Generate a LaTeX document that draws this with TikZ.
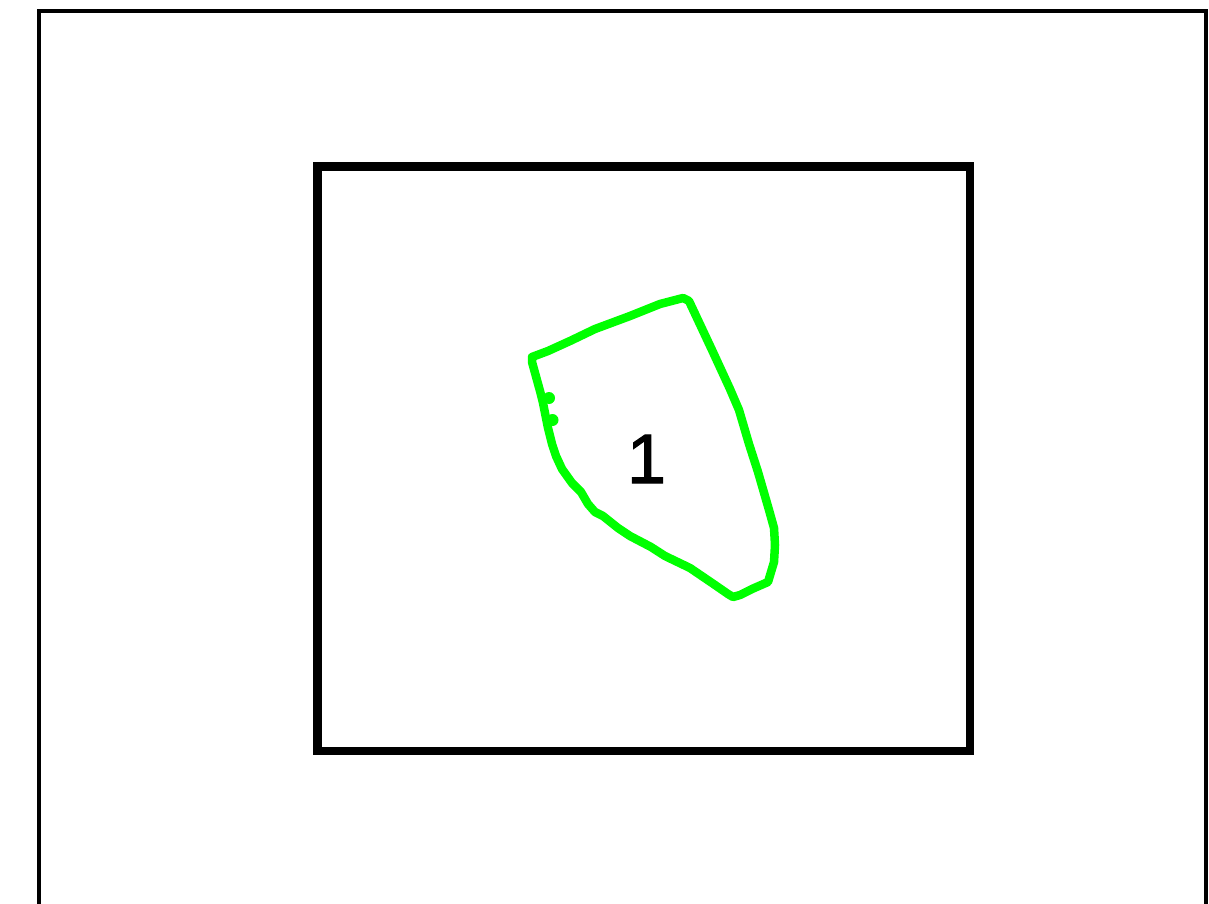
\documentclass[tikz,border=0pt]{standalone}
\usepackage{fontspec}
\setmainfont{Liberation Sans}
\newfontfamily\labelfont[FakeBold=1.6]{Liberation Sans}
\definecolor{zonegreen}{RGB}{0,255,0}
\begin{document}
\begin{tikzpicture}[x=1pt,y=-1pt,
  outerframe/.style={draw=black,line width=4pt},
  innerframe/.style={draw=black,line width=8.5pt,line join=miter},
  zone/.style={draw=zonegreen,line width=8.5pt,line join=round,line cap=round},
  zonelabel/.style={inner sep=0pt,font=\labelfont\fontsize{70}{70}\selectfont}]
\useasboundingbox (0,0) rectangle (1209,904);
\clip (0,0) rectangle (1209,904);
\draw[outerframe] (38.5,930) -- (38.5,11.5) -- (1205.5,11.5) -- (1205.5,930);
\draw[innerframe] (317.5,166.5) rectangle (970,751);
\draw[zone] (532,357) -- (548,351) -- (570,341) -- (595,329) -- (630,316) -- (660,304) -- (683,298) -- (689,301)
  -- (712,350) -- (730,389) -- (739,410) -- (749,444) -- (758,472) -- (769,510) -- (774,528) -- (775,545)
  -- (774,562) -- (768,582) -- (752,589) -- (740,595) -- (733,597) -- (728,594) -- (715,585) -- (690,568)
  -- (665,556) -- (651,547) -- (630,536) -- (618,528) -- (603,516) -- (595,512) -- (588,504) -- (581,492)
  -- (572,483) -- (562,469) -- (556,456) -- (552,444) -- (548,428) -- (546,418) -- (543,403) -- (540,391)
  -- (532,362) -- cycle;
\fill[zonegreen] (549,398) circle (6);
\fill[zonegreen] (552.5,420) circle (6);
\node[zonelabel,anchor=base] (label1) at (646.5,483) {1};
\end{tikzpicture}
\end{document}
